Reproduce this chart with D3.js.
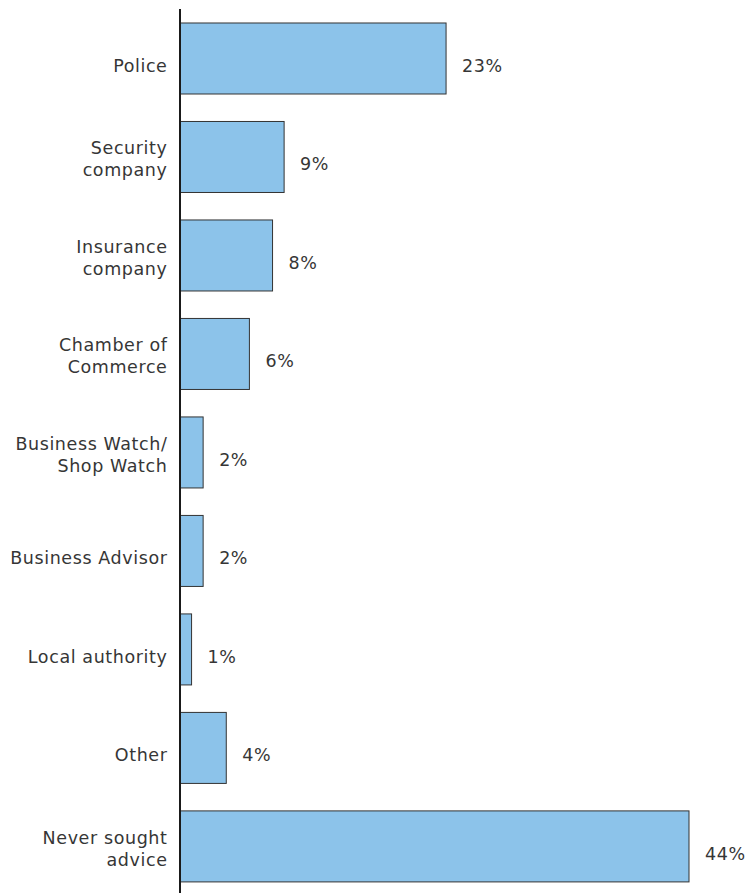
<!DOCTYPE html>
<html>
<head>
<meta charset="utf-8">
<script src="https://cdn.jsdelivr.net/npm/d3@7"></script>
<style>
  html, body { margin: 0; padding: 0; background: #fff; }
  svg { display: block; }
  text { font-family: "DejaVu Sans", "Noto Sans", sans-serif; fill: #363636; letter-spacing: 0.6px; }
</style>
</head>
<body>
<svg id="chart" width="749" height="893"></svg>
<script>
// Where businesses sought advice (share of respondents)
const categories = [
  ["Police"],
  ["Security", "company"],
  ["Insurance", "company"],
  ["Chamber of", "Commerce"],
  ["Business Watch/", "Shop Watch"],
  ["Business Advisor"],
  ["Local authority"],
  ["Other"],
  ["Never sought", "advice"]
];
const values = [23, 9, 8, 6, 2, 2, 1, 4, 44];
const valueLabels = ["23%", "9%", "8%", "6%", "2%", "2%", "1%", "4%", "44%"];

const svg = d3.select("#chart");
const keys = categories.map(c => c.join(" "));

const x = d3.scaleLinear().domain([0, 44]).range([180, 689]);
const y = d3.scaleBand()
  .domain(keys)
  .range([9.2, 895.7])
  .paddingInner(0.279)
  .paddingOuter(0.14);

const rows = keys.map((k, i) => ({ key: k, lines: categories[i], value: values[i], label: valueLabels[i] }));
const mid = d => y(d.key) + y.bandwidth() / 2;

// bars
svg.append("g").selectAll("rect")
  .data(rows)
  .join("rect")
  .attr("x", x(0))
  .attr("y", d => y(d.key))
  .attr("width", d => x(d.value) - x(0))
  .attr("height", y.bandwidth())
  .attr("fill", "#8cc3ea")
  .attr("stroke", "#333")
  .attr("stroke-width", 1);

const fontSize = 17.5;

// value labels
svg.append("g").selectAll("text")
  .data(rows)
  .join("text")
  .attr("x", d => x(d.value) + 16)
  .attr("y", d => mid(d) + 13.5)
  .attr("font-size", fontSize)
  .text(d => d.label);

// category labels (one or two lines, right-aligned)
const cat = svg.append("g").selectAll("text")
  .data(rows)
  .join("text")
  .attr("text-anchor", "end")
  .attr("font-size", fontSize);
cat.each(function(d) {
  const t = d3.select(this);
  const c = mid(d);
  const baselines = d.lines.length === 1 ? [c + 13.5] : [c - 2.5, c + 19.5];
  d.lines.forEach((ln, j) => {
    t.append("tspan")
      .attr("x", 167.5)
      .attr("y", baselines[j])
      .text(ln);
  });
});

// vertical axis line
svg.append("line")
  .attr("x1", x(0)).attr("x2", x(0))
  .attr("y1", 9).attr("y2", 893)
  .attr("stroke", "#1a1a1a")
  .attr("stroke-width", 2);
</script>
</body>
</html>
